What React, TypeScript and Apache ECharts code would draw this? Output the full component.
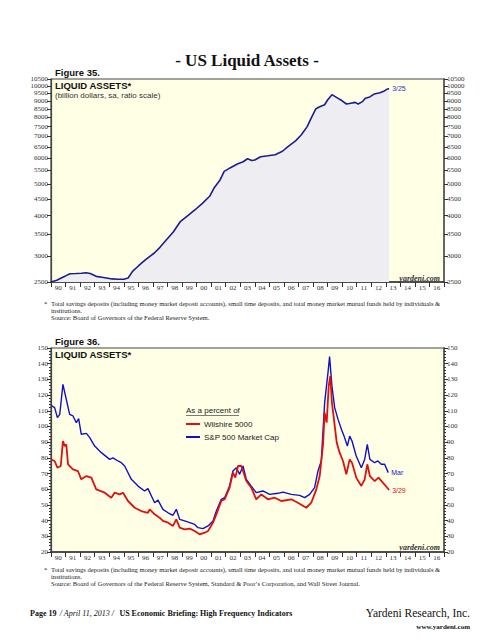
import React, { useEffect, useRef } from "react";
import * as echarts from "echarts";

const yearLabels = ["90","91","92","93","94","95","96","97","98","99","00","01","02","03","04","05","06","07","08","09","10","11","12","13","14","15","16"];

const liquidTicks = [2500,3000,3500,4000,4500,5000,5500,6000,6500,7000,7500,8000,8500,9000,9500,10000,10500];

const liquidDates = [1990.0,1990.4,1990.7,1991.0,1991.3,1991.7,1992.1,1992.4,1992.7,1993.1,1993.5,1993.8,1994.2,1994.6,1995.0,1995.3,1995.6,1996.0,1996.5,1997.1,1997.5,1997.9,1998.4,1998.9,1999.4,1999.9,2000.4,2000.9,2001.2,2001.6,2001.9,2002.3,2002.8,2003.2,2003.5,2003.8,2004.0,2004.4,2004.9,2005.4,2005.9,2006.3,2006.8,2007.2,2007.6,2007.9,2008.2,2008.5,2008.8,2009.0,2009.3,2009.7,2010.0,2010.3,2010.6,2010.9,2011.1,2011.4,2011.6,2011.9,2012.2,2012.6,2012.9,2013.1,2013.23];
const liquidValues = [2500,2530,2572,2610,2651,2655,2660,2670,2655,2602,2585,2572,2555,2548,2550,2572,2696,2800,2930,3069,3200,3358,3560,3840,4000,4167,4360,4583,4857,5130,5465,5600,5755,5850,5975,5900,5925,6063,6100,6150,6300,6523,6780,7078,7500,8010,8512,8650,8750,9050,9400,9170,9000,8800,8850,8900,8800,8950,9170,9250,9440,9530,9650,9780,9800];

const spDates = [1990.0,1990.25,1990.44,1990.6,1990.82,1991.05,1991.28,1991.51,1991.74,1991.9,1992.08,1992.43,1992.66,1993.0,1993.46,1994.03,1994.26,1994.6,1994.83,1995.06,1995.52,1995.98,1996.43,1996.66,1996.9,1997.12,1997.35,1997.69,1998.04,1998.38,1998.61,1998.84,1999.18,1999.53,1999.87,2000.1,2000.44,2000.79,2001.13,2001.36,2001.7,2001.93,2002.27,2002.5,2002.73,2002.96,2003.19,2003.42,2003.76,2004.1,2004.56,2005.02,2005.59,2005.94,2006.51,2007.08,2007.43,2007.77,2008.11,2008.34,2008.57,2008.8,2009.03,2009.14,2009.3,2009.49,2009.72,2009.95,2010.17,2010.36,2010.52,2010.68,2010.97,2011.32,2011.55,2011.73,2011.91,2012.24,2012.46,2012.69,2012.92,2013.17];
const spValues = [113.5,112,105.6,107.7,126.8,117.3,107.7,106.7,102.4,105,95,95.6,92.9,87.5,83.3,79,80,78,76.9,74.8,66.3,62,58.9,60.4,55.7,51.4,53.1,47.2,45,43.4,47.2,40.8,39.8,38.7,37.6,35.5,34.9,36.6,39.8,46.1,53.6,54.6,62.1,71.6,73.7,69.5,74.8,66.3,62,57.8,58.9,56.7,57.4,58.2,56.7,56.1,54.6,56.7,61,71.6,78,115.2,134.3,144.5,125.8,112,104.5,98.2,92.9,87.5,93.9,90.7,81.2,73.7,79,88.6,79,76.9,78,75.9,75.9,70.6];

const wilDates = [1990.0,1990.25,1990.44,1990.67,1990.82,1990.94,1991.05,1991.17,1991.51,1991.85,1992.08,1992.43,1992.77,1993.11,1993.69,1994.14,1994.37,1994.72,1994.95,1995.29,1995.75,1996.2,1996.66,1996.78,1997.12,1997.46,1997.69,1998.04,1998.38,1998.61,1998.84,1999.18,1999.53,1999.87,2000.21,2000.56,2000.79,2001.13,2001.36,2001.7,2001.93,2002.27,2002.5,2002.66,2002.85,2003.08,2003.42,2003.76,2004.1,2004.45,2004.9,2005.37,2005.82,2006.51,2006.96,2007.54,2007.88,2008.23,2008.46,2008.69,2008.8,2008.94,2009.08,2009.19,2009.3,2009.44,2009.63,2009.83,2010.06,2010.29,2010.52,2010.68,2010.97,2011.32,2011.55,2011.73,2011.91,2012.24,2012.5,2012.8,2013.23];
const wilValues = [79,78,73.7,74.8,90.7,87.5,88.6,75.9,72.7,71.6,66.3,68.4,67.4,59.9,57.8,54.6,57.8,56.7,57.8,52.5,48.2,46.1,45,47.2,44,41.9,39.8,38.7,36.6,40.8,35.5,34.4,34.9,33.4,31.3,32.3,33.4,38.7,44,52.5,53.6,61,70.6,67.4,74.8,74.8,65.2,61,53.6,56.7,53.6,54.6,52.5,53.6,51.4,48.2,51.4,59.9,68.4,88.6,108.8,102.4,125.8,132.2,115.2,104.5,89.7,83.3,78,69.5,79,76.9,67.4,62.1,66.3,75.9,68.4,65.2,67.4,64.2,59.5];

const zip = (a: number[], b: number[]) => a.map((d, i) => [d, b[i]]);

const SERIF = "'Liberation Serif', 'Times New Roman', serif";
const SANS = "'Liberation Sans', Arial, sans-serif";
const BG = "#FFFFE6";

const tickLabel = { fontSize: 7, fontFamily: SERIF, color: "#333" };

function makeGrid(top: number, height: number) {
  return {
    left: 51, top, width: 393, height,
    show: true, backgroundColor: BG, borderColor: "#444", borderWidth: 1.2,
  };
}

function catAxis(gridIndex: number) {
  return {
    type: "category", gridIndex, data: yearLabels, position: "bottom",
    boundaryGap: true,
    axisLine: { show: true, lineStyle: { color: "#333", width: 1.5 } },
    axisTick: { show: true, length: 5, lineStyle: { color: "#333", width: 1 } },
    axisLabel: { ...tickLabel, interval: 0, margin: 2 },
    splitLine: { show: false },
  };
}

function valXAxis(gridIndex: number) {
  return { type: "value", gridIndex, min: 1990, max: 2017, show: false, splitLine: { show: false } };
}

export default function App() {
  const ref = useRef<HTMLDivElement>(null);
  useEffect(() => {
    if (!ref.current) return;
    const chart = echarts.init(ref.current, null, { renderer: "svg" });
    const logY = (pos: string, lineColor: string, lineWidth: number) => ({
      type: "log", gridIndex: 0, position: pos, min: 2500, max: 10500, logBase: 10,
      axisLine: { show: true, lineStyle: { color: lineColor, width: lineWidth } },
      axisTick: { show: true, length: 4, customValues: liquidTicks, lineStyle: { color: "#333" } },
      axisLabel: { ...tickLabel, margin: 3, customValues: liquidTicks, formatter: (v: number) => String(Math.round(v)) },
      splitLine: { show: false },
      minorTick: { show: false },
    });
    const linY = (pos: string, lineColor: string, lineWidth: number) => ({
      type: "value", gridIndex: 1, position: pos, min: 20, max: 150, interval: 10,
      axisLine: { show: true, lineStyle: { color: lineColor, width: lineWidth } },
      axisTick: { show: true, length: 4, lineStyle: { color: "#333" } },
      minorTick: { show: true, splitNumber: 5, length: 2, lineStyle: { color: "#333" } },
      axisLabel: { ...tickLabel, margin: 3 },
      splitLine: { show: false },
    });
    const footStyle = { fontSize: 6.6, fontFamily: SERIF, fill: "#222" };
    chart.setOption({
      animation: false,
      backgroundColor: "#fff",
      grid: [makeGrid(79, 203), makeGrid(348, 204)],
      xAxis: [valXAxis(0), catAxis(0), valXAxis(1), catAxis(1)],
      yAxis: [logY("left", "#444", 1.2), logY("right", "#666", 2), linY("left", "#444", 1.2), linY("right", "#666", 2)],
      legend: {
        data: ["Wilshire 5000", "S&P 500 Market Cap"],
        orient: "vertical", left: 181, top: 415, itemWidth: 14, itemHeight: 2, itemGap: 5,
        icon: "rect",
        textStyle: { fontSize: 8, fontFamily: SANS, color: "#222", padding: [0, 0, 0, -1] },
      },
      series: [
        {
          name: "Liquid Assets", type: "line", xAxisIndex: 0, yAxisIndex: 0,
          data: zip(liquidDates, liquidValues), showSymbol: false, symbol: "none",
          lineStyle: { color: "#1c1c8e", width: 1.6 },
          itemStyle: { color: "#1c1c8e" },
          areaStyle: { color: "#EEEEF2", opacity: 1, origin: "start" },
          endLabel: { show: true, formatter: "3/25", fontSize: 7, fontFamily: SANS, color: "#3333bb", distance: 3 },
        },
        {
          name: "S&P 500 Market Cap", type: "line", xAxisIndex: 2, yAxisIndex: 2,
          data: zip(spDates, spValues), showSymbol: false, symbol: "none",
          lineStyle: { color: "#1010c8", width: 1.4 }, itemStyle: { color: "#1010c8" },
          endLabel: { show: true, formatter: "Mar", fontSize: 7, fontFamily: SANS, color: "#2020cc", distance: 3 },
        },
        {
          name: "Wilshire 5000", type: "line", xAxisIndex: 2, yAxisIndex: 2,
          data: zip(wilDates, wilValues), showSymbol: false, symbol: "none",
          lineStyle: { color: "#e01010", width: 1.8 }, itemStyle: { color: "#e01010" },
          endLabel: { show: true, formatter: "3/29", fontSize: 7, fontFamily: SANS, color: "#e01010", distance: 3 },
        },
      ],
      graphic: [
        { type: "text", x: 247, y: 60, style: { text: "- US Liquid Assets -", font: `bold 17px ${SERIF}`, fill: "#111", align: "center", verticalAlign: "middle" } },
        { type: "text", x: 55, y: 72, style: { text: "Figure 35.", font: `bold 9.5px ${SANS}`, fill: "#111", verticalAlign: "middle" } },
        { type: "text", x: 55, y: 85, style: { text: "LIQUID ASSETS*", font: `bold 9.5px ${SANS}`, fill: "#111", verticalAlign: "middle" } },
        { type: "text", x: 55, y: 95, style: { text: "(billion dollars, sa, ratio scale)", font: `8px ${SANS}`, fill: "#333", verticalAlign: "middle" } },
        { type: "text", x: 440, y: 278, style: { text: "yardeni.com", font: `italic bold 8px ${SERIF}`, fill: "#333", align: "right", verticalAlign: "middle" } },
        { type: "text", x: 44, y: 303, style: { text: "*", ...footStyle, verticalAlign: "middle" } },
        { type: "text", x: 51, y: 303, style: { text: "Total savings deposits (including money market deposit accounts), small time deposits, and total money market mutual funds held by individuals &", ...footStyle, verticalAlign: "middle" } },
        { type: "text", x: 51, y: 310, style: { text: "institutions.", ...footStyle, verticalAlign: "middle" } },
        { type: "text", x: 51, y: 317, style: { text: "Source: Board of Governors of the Federal Reserve System.", ...footStyle, verticalAlign: "middle" } },

        { type: "text", x: 55, y: 341, style: { text: "Figure 36.", font: `bold 9.5px ${SANS}`, fill: "#111", verticalAlign: "middle" } },
        { type: "text", x: 55, y: 354, style: { text: "LIQUID ASSETS*", font: `bold 9.5px ${SANS}`, fill: "#111", verticalAlign: "middle" } },
        { type: "text", x: 186, y: 410, style: { text: "As a percent of", font: `8px ${SANS}`, fill: "#222", verticalAlign: "middle" } },
        { type: "line", shape: { x1: 186, y1: 415.5, x2: 239, y2: 415.5 }, style: { stroke: "#444", lineWidth: 0.7 } },
        { type: "text", x: 440, y: 547, style: { text: "yardeni.com", font: `italic bold 8px ${SERIF}`, fill: "#333", align: "right", verticalAlign: "middle" } },
        { type: "text", x: 44, y: 569, style: { text: "*", ...footStyle, verticalAlign: "middle" } },
        { type: "text", x: 51, y: 569, style: { text: "Total savings deposits (including money market deposit accounts), small time deposits, and total money market mutual funds held by individuals &", ...footStyle, verticalAlign: "middle" } },
        { type: "text", x: 51, y: 576, style: { text: "institutions.", ...footStyle, verticalAlign: "middle" } },
        { type: "text", x: 51, y: 583, style: { text: "Source: Board of Governors of the Federal Reserve System, Standard & Poor\u2019s Corporation, and Wall Street Journal.", ...footStyle, verticalAlign: "middle" } },

        {
          type: "text", x: 30, y: 613,
          style: {
            text: "{b|Page 19} {i|/ April 11, 2013 /} {b| US Economic Briefing: High Frequency Indicators}",
            verticalAlign: "middle",
            rich: {
              b: { font: `bold 8px ${SERIF}`, fill: "#111" },
              i: { font: `italic 8px ${SERIF}`, fill: "#111" },
            },
          },
        },
        { type: "text", x: 470, y: 613, style: { text: "Yardeni Research, Inc.", font: `11.5px ${SERIF}`, fill: "#111", align: "right", verticalAlign: "middle" } },
        { type: "text", x: 470, y: 627, style: { text: "www.yardeni.com", font: `bold 7px ${SERIF}`, fill: "#111", align: "right", verticalAlign: "middle" } },
      ],
    });
    return () => chart.dispose();
  }, []);
  return (
    <div
      ref={ref}
      style={{ position: "absolute", left: 0, top: 0, width: 495, height: 640, background: "#fff" }}
    />
  );
}
